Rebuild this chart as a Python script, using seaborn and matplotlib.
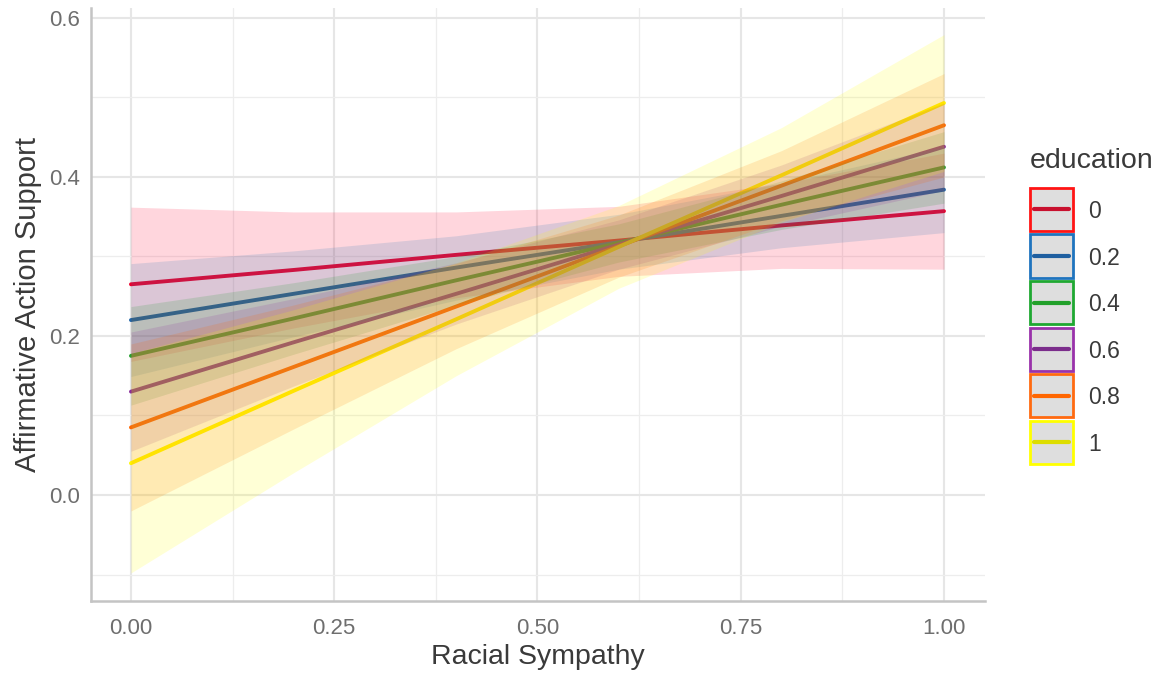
import matplotlib
matplotlib.use("Agg")
import matplotlib.pyplot as plt
import seaborn as sns
import numpy as np
import pandas as pd
from matplotlib.patches import Rectangle
from matplotlib.lines import Line2D

# predicted support by racial sympathy, one line per education level
rs = [0.0, 0.2, 0.4, 0.6, 0.8, 1.0]
education = ["0", "0.2", "0.4", "0.6", "0.8", "1"]

fit_e0 = [0.265, 0.283, 0.302, 0.320, 0.339, 0.357]
lo_e0 = [0.168, 0.210, 0.248, 0.275, 0.285, 0.284]
hi_e0 = [0.362, 0.356, 0.356, 0.363, 0.392, 0.430]

fit_e2 = [0.220, 0.253, 0.286, 0.318, 0.351, 0.384]
lo_e2 = [0.149, 0.199, 0.245, 0.284, 0.311, 0.330]
hi_e2 = [0.291, 0.307, 0.326, 0.353, 0.392, 0.438]

fit_e4 = [0.175, 0.222, 0.270, 0.317, 0.365, 0.412]
lo_e4 = [0.113, 0.177, 0.239, 0.293, 0.334, 0.367]
hi_e4 = [0.237, 0.267, 0.300, 0.341, 0.395, 0.457]

fit_e6 = [0.130, 0.192, 0.253, 0.315, 0.376, 0.438]
lo_e6 = [0.055, 0.137, 0.215, 0.284, 0.338, 0.383]
hi_e6 = [0.205, 0.247, 0.292, 0.346, 0.415, 0.493]

fit_e8 = [0.085, 0.161, 0.237, 0.313, 0.389, 0.465]
lo_e8 = [-0.020, 0.083, 0.184, 0.274, 0.345, 0.400]
hi_e8 = [0.190, 0.239, 0.291, 0.352, 0.433, 0.530]

fit_e10 = [0.040, 0.131, 0.221, 0.312, 0.402, 0.493]
lo_e10 = [-0.098, 0.028, 0.150, 0.260, 0.343, 0.407]
hi_e10 = [0.178, 0.233, 0.292, 0.364, 0.462, 0.579]

fits = [fit_e0, fit_e2, fit_e4, fit_e6, fit_e8, fit_e10]
lows = [lo_e0, lo_e2, lo_e4, lo_e6, lo_e8, lo_e10]
highs = [hi_e0, hi_e2, hi_e4, hi_e6, hi_e8, hi_e10]

df = pd.concat([
    pd.DataFrame({"rs": rs, "fit": f, "lower": lo, "upper": hi, "education": e})
    for e, f, lo, hi in zip(education, fits, lows, highs)
], ignore_index=True)

line_cols = ["#EC002C", "#1F64A8", "#26A02E", "#8B2D9B", "#FF6600", "#FFF600"]
fill_cols = ["#FF0030", "#1F78B4", "#1A9A2A", "#8E2C9E", "#FF6600", "#FFFF00"]
edge_cols = ["#FF1414", "#1F74BE", "#1FA832", "#9932AA", "#FF6A10", "#FFFF00"]
key_line_cols = ["#C8102E", "#1F5FA0", "#22A02A", "#7B2D8B", "#FF6600", "#DDDD00"]

sns.set_theme(style="whitegrid")
plt.rcParams["font.family"] = ["Liberation Sans", "DejaVu Sans"]

fig = plt.figure(figsize=(11.6, 6.74), dpi=100)
ax = fig.add_axes([0.0784, 0.1083, 0.7707, 0.880])

sns.lineplot(data=df, x="rs", y="fit", hue="education", hue_order=education,
             palette=dict(zip(education, line_cols)), estimator=None,
             linewidth=2.8, legend=False, ax=ax, zorder=2)

for e, c in zip(education, fill_cols):
    sub = df[df["education"] == e]
    ax.fill_between(sub["rs"], sub["lower"], sub["upper"], color=c,
                    alpha=0.16, linewidth=0, zorder=3)

ax.set_xlim(-0.0492, 1.0504)
ax.set_ylim(-0.1333, 0.6126)
ax.set_xticks([0, 0.25, 0.5, 0.75, 1.0])
ax.set_xticklabels(["0.00", "0.25", "0.50", "0.75", "1.00"])
ax.set_xticks([0.125, 0.375, 0.625, 0.875], minor=True)
ax.set_yticks([0.0, 0.2, 0.4, 0.6])
ax.set_yticklabels(["0.0", "0.2", "0.4", "0.6"])
ax.set_yticks([-0.1, 0.1, 0.3, 0.5], minor=True)

ax.grid(which="major", color="#E6E6E6", linewidth=1.5)
ax.grid(which="minor", color="#EDEDED", linewidth=0.9)
ax.set_axisbelow(True)
ax.set_facecolor("white")
for s in ["top", "right"]:
    ax.spines[s].set_visible(False)
for s in ["left", "bottom"]:
    ax.spines[s].set_visible(True)
    ax.spines[s].set_color("#C4C4C4")
    ax.spines[s].set_linewidth(1.8)

ax.tick_params(which="both", length=0, labelsize=16, colors="#6E6E6E")
ax.tick_params(axis="x", pad=12)
ax.tick_params(axis="y", pad=8)
ax.set_xlabel("Racial Sympathy", fontsize=20.5, color="#3A3A3A", labelpad=4)
ax.set_ylabel("Affirmative Action Support", fontsize=21, color="#3A3A3A", labelpad=5)

# legend keys drawn in figure pixels (ggplot-style boxed keys)
W, H = 1160, 674
fx = lambda px: px / W
fy = lambda py: 1 - py / H
fig.text(fx(1030), fy(168), "education", fontsize=20.5, color="#3A3A3A",
         ha="left", va="baseline")
for i, (lab, ec, lc) in enumerate(zip(education, edge_cols, key_line_cols)):
    top = 188 + 46.5 * i
    fig.add_artist(Rectangle((fx(1030), fy(top + 43)), 43 / W, 43 / H,
                             transform=fig.transFigure, facecolor="#DEDEDE",
                             edgecolor=ec, linewidth=2))
    fig.add_artist(Line2D([fx(1034), fx(1069)], [fy(top + 21.5)] * 2,
                          transform=fig.transFigure, color=lc, linewidth=3))
    fig.text(fx(1088), fy(top + 30.5), lab, fontsize=16.5, color="#3A3A3A",
             ha="left", va="baseline")

fig.savefig("out.png", dpi=100)
